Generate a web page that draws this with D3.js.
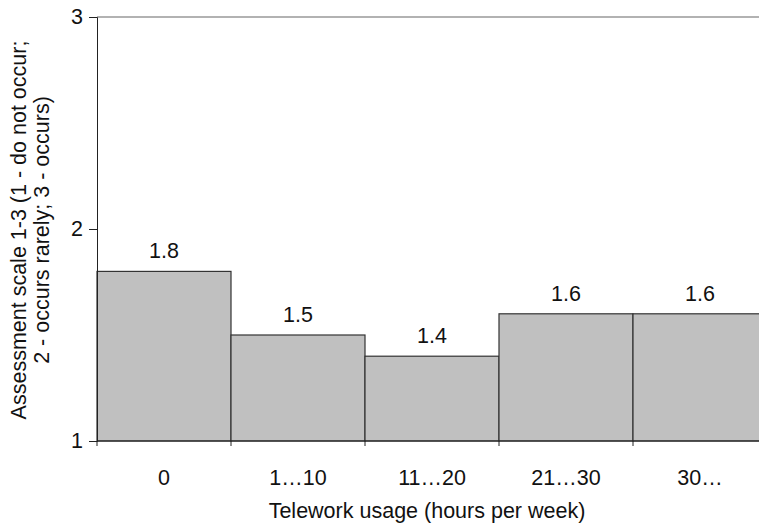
<!DOCTYPE html>
<html>
<head>
<meta charset="utf-8">
<script src="https://cdn.jsdelivr.net/npm/d3@7"></script>
<style>
  body { margin: 0; background: #fff; }
  svg { display: block; font-family: "Liberation Sans", Arial, sans-serif; }
</style>
</head>
<body>
<script>
// chart data
const categories = ["0", "1\u202610", "11\u202620", "21\u202630", "30\u2026"];
const values = [1.8, 1.5, 1.4, 1.6, 1.6];
const valueLabels = ["1.8", "1.5", "1.4", "1.6", "1.6"];
const yTicks = [1, 2, 3];

const width = 759, height = 527;
const plotLeft = 97, plotTop = 17, plotBottom = 441;
const bandW = 134;
const fs = 21.5;

const svg = d3.select("body").append("svg")
    .attr("width", width)
    .attr("height", height);

const x = d3.scaleBand()
    .domain(categories)
    .range([plotLeft, plotLeft + bandW * categories.length])
    .padding(0);

const y = d3.scaleLinear()
    .domain([1, 3])
    .range([plotBottom, plotTop]);

// top gridline
svg.append("line")
    .attr("x1", plotLeft).attr("x2", width)
    .attr("y1", y(3)).attr("y2", y(3))
    .attr("stroke", "#999").attr("stroke-width", 1.5);

// bars
svg.append("g")
  .selectAll("rect")
  .data(values)
  .join("rect")
    .attr("x", (d, i) => x(categories[i]))
    .attr("y", d => y(d))
    .attr("width", x.bandwidth())
    .attr("height", d => y(1) - y(d))
    .attr("fill", "#c0c0c0")
    .attr("stroke", "#333")
    .attr("stroke-width", 1.2);

// value labels
svg.append("g")
  .selectAll("text")
  .data(values)
  .join("text")
    .attr("x", (d, i) => x(categories[i]) + x.bandwidth() / 2)
    .attr("y", d => y(d) - 13)
    .attr("text-anchor", "middle")
    .attr("font-size", fs)
    .attr("fill", "#111")
    .text((d, i) => valueLabels[i]);

// y axis
const yAxis = svg.append("g")
    .attr("transform", `translate(${plotLeft},0)`)
    .call(d3.axisLeft(y).tickValues(yTicks).tickFormat(d3.format("d")).tickSize(8).tickPadding(6));
yAxis.select(".domain").attr("stroke", "#222");
yAxis.selectAll(".tick line").attr("stroke", "#222");
yAxis.selectAll("text").attr("font-size", fs).attr("fill", "#111")
    .attr("font-family", "Liberation Sans, Arial, sans-serif");

// x axis baseline + boundary ticks
svg.append("line")
    .attr("x1", plotLeft).attr("x2", width)
    .attr("y1", y(1)).attr("y2", y(1))
    .attr("stroke", "#222").attr("stroke-width", 1.2);

const bounds = categories.map(c => x(c)).concat([x.range()[1]]);
svg.append("g")
  .selectAll("line")
  .data(bounds)
  .join("line")
    .attr("x1", d => d).attr("x2", d => d)
    .attr("y1", y(1)).attr("y2", y(1) + 5)
    .attr("stroke", "#222");

svg.append("g")
  .selectAll("text")
  .data(categories)
  .join("text")
    .attr("x", d => x(d) + x.bandwidth() / 2)
    .attr("y", 485)
    .attr("text-anchor", "middle")
    .attr("font-size", fs)
    .attr("fill", "#111")
    .text(d => d);

// axis titles
svg.append("text")
    .attr("x", 427)
    .attr("y", 518)
    .attr("text-anchor", "middle")
    .attr("font-size", fs)
    .attr("fill", "#111")
    .text("Telework usage (hours per week)");

const yTitle = svg.append("text")
    .attr("transform", "translate(26,230) rotate(-90)")
    .attr("text-anchor", "middle")
    .attr("font-size", fs)
    .attr("fill", "#111");
yTitle.append("tspan").attr("x", 0).attr("dy", 0)
    .text("Assessment scale 1-3 (1 - do not occur;");
yTitle.append("tspan").attr("x", 0).attr("dy", 23)
    .text("2 - occurs rarely; 3 - occurs)");
</script>
</body>
</html>
